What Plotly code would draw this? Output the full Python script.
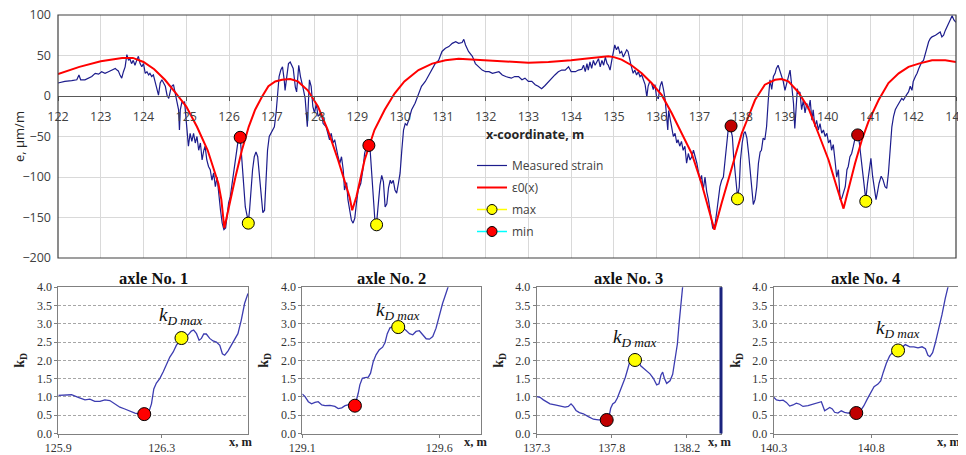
import plotly.graph_objects as go

# ---------------- main chart data ----------------
strain_x = [122.00,122.16,122.32,122.44,122.49,122.53,122.63,122.79,122.87,122.95,123.02,123.10,123.18,123.26,123.34,123.38,123.41,123.45,123.49,123.53,
123.57,123.61,123.65,123.68,123.72,123.76,123.80,123.84,123.88,123.92,123.96,124.00,124.04,124.08,124.12,124.15,124.19,124.23,124.27,124.31,
124.35,124.39,124.43,124.47,124.51,124.55,124.59,124.63,124.66,124.70,124.74,124.78,124.82,124.84,124.86,124.90,124.93,124.96,124.99,125.02,
125.05,125.09,125.13,125.17,125.21,125.25,125.29,125.33,125.37,125.41,125.44,125.48,125.52,125.56,125.60,125.64,125.68,125.72,125.76,125.80,
125.84,125.88,125.92,125.95,125.99,126.03,126.07,126.11,126.15,126.19,126.22,126.26,126.30,126.34,126.38,126.42,126.45,126.48,126.51,126.55,
126.59,126.63,126.67,126.71,126.75,126.79,126.83,126.87,126.90,126.94,126.98,127.02,127.06,127.10,127.13,127.17,127.21,127.25,127.29,127.31,
127.35,127.39,127.43,127.47,127.50,127.55,127.58,127.63,127.67,127.73,127.78,127.83,127.88,127.92,127.96,128.00,128.04,128.08,128.16,128.20,
128.27,128.35,128.39,128.43,128.47,128.55,128.59,128.63,128.67,128.70,128.75,128.78,128.82,128.86,128.90,128.94,128.98,129.02,129.08,129.13,
129.17,129.20,129.25,129.29,129.31,129.35,129.38,129.41,129.45,129.48,129.50,129.53,129.57,129.61,129.65,129.69,129.73,129.77,129.80,129.84,
129.88,129.92,129.96,130.00,130.04,130.08,130.12,130.16,130.20,130.24,130.27,130.35,130.43,130.47,130.50,130.59,130.67,130.75,130.82,130.90,
130.94,130.98,131.06,131.14,131.22,131.30,131.37,131.45,131.49,131.53,131.60,131.69,131.76,131.84,131.92,132.00,132.08,132.16,132.31,132.39,
132.47,132.60,132.68,132.77,132.85,132.92,133.00,133.08,133.16,133.23,133.31,133.39,133.47,133.55,133.62,133.70,133.78,133.86,133.94,134.00,
134.10,134.17,134.25,134.29,134.33,134.37,134.40,134.44,134.48,134.52,134.56,134.64,134.68,134.72,134.76,134.80,134.84,134.87,134.91,134.95,
134.99,135.02,135.06,135.10,135.14,135.18,135.22,135.26,135.30,135.33,135.37,135.40,135.45,135.49,135.53,135.57,135.61,135.65,135.69,135.73,
135.77,135.80,135.84,135.88,135.92,135.96,136.00,136.04,136.08,136.12,136.16,136.20,136.24,136.26,136.28,136.31,136.35,136.39,136.43,136.47,
136.50,136.54,136.58,136.62,136.66,136.70,136.74,136.78,136.82,136.86,136.90,136.94,136.98,137.02,137.05,137.09,137.13,137.17,137.21,137.25,
137.29,137.31,137.34,137.37,137.41,137.44,137.48,137.52,137.56,137.60,137.64,137.68,137.72,137.77,137.80,137.85,137.89,137.93,137.96,138.00,
138.04,138.07,138.11,138.15,138.19,138.23,138.26,138.30,138.34,138.38,138.42,138.45,138.49,138.53,138.57,138.61,138.65,138.69,138.73,138.77,
138.80,138.84,138.88,138.92,138.96,139.00,139.04,139.08,139.12,139.16,139.20,139.23,139.26,139.29,139.31,139.35,139.39,139.43,139.47,139.51,
139.55,139.59,139.63,139.66,139.70,139.74,139.78,139.82,139.86,139.90,139.94,139.98,140.02,140.06,140.09,140.13,140.17,140.21,140.25,140.29,
140.33,140.37,140.41,140.45,140.48,140.52,140.56,140.60,140.64,140.68,140.71,140.74,140.78,140.81,140.85,140.89,140.93,140.97,141.01,141.05,
141.09,141.13,141.16,141.20,141.25,141.29,141.34,141.38,141.42,141.46,141.50,141.54,141.58,141.62,141.66,141.70,141.73,141.77,141.81,141.85,
141.89,141.93,141.97,142.00,142.05,142.09,142.13,142.17,142.20,142.24,142.28,142.32,142.36,142.40,142.44,142.52,142.59,142.63,142.67,142.71,
142.75,142.79,142.83,142.87,142.91,142.95,142.98,143.00]
strain_y = [16,18,19,20,26,20,20,24,28,27,30,28,30,32,34,32,31,26,22,30,
36,51,44,46,40,44,38,44,49,40,36,40,28,30,26,28,24,26,18,7,
1,16,20,16,12,1,-3,7,12,14,3,-5,-17,-42,-17,-7,-9,-7,-25,-50,
-62,-46,-56,-46,-58,-50,-67,-58,-79,-67,-62,-79,-87,-91,-104,-95,-112,-100,-124,-141,
-157,-165,-163,-149,-132,-124,-108,-91,-75,-58,-52,-50,-75,-108,-137,-149,-155,-141,-116,-91,
-75,-69,-75,-100,-128,-144,-141,-104,-67,-50,-46,-42,-38,-21,-1,24,32,36,20,7,
24,40,42,38,34,11,5,38,24,10,-3,-38,20,12,-13,-21,-9,-25,-21,-34,
-38,-54,-46,-58,-54,-75,-83,-75,-91,-116,-107,-128,-139,-153,-157,-151,-132,-116,-108,-91,
-71,-65,-62,-60,-75,-108,-137,-153,-157,-140,-123,-110,-98,-106,-137,-133,-113,-104,-108,-104,
-116,-120,-108,-95,-67,-42,-34,-36,-30,-21,-17,-9,3,7,12,18,26,34,40,44,
50,55,59,61,65,67,65,66,70,63,55,49,40,36,32,30,30,28,30,26,
24,22,24,24,20,22,18,18,14,12,9,13,18,22,26,30,32,32,36,30,
30,32,33,38,30,40,32,42,34,44,38,46,36,44,38,48,40,38,32,44,
57,63,57,61,53,55,48,53,57,55,44,38,28,32,26,30,24,26,20,14,
-1,12,18,16,8,14,-2,-3,12,18,8,-5,-30,-42,-18,-25,-38,-50,-46,-58,
-54,-62,-56,-67,-62,-83,-71,-79,-75,-67,-75,-83,-95,-104,-98,-116,-100,-118,-128,-141,
-153,-163,-163,-157,-141,-126,-112,-104,-100,-79,-54,-38,-38,-50,-75,-108,-124,-113,-79,-58,
-46,-44,-52,-71,-95,-125,-134,-128,-112,-83,-69,-67,-52,-54,-38,-5,20,8,24,28,
34,38,32,24,18,7,16,26,32,12,-9,-40,-18,9,3,5,-17,-5,-21,-9,
-17,-5,-30,-17,-38,-30,-42,-34,-46,-42,-50,-46,-58,-54,-67,-60,-79,-100,-91,-128,
-126,-120,-112,-91,-87,-75,-71,-62,-52,-48,-48,-58,-79,-91,-116,-128,-108,-91,-77,-99,
-116,-128,-120,-108,-99,-103,-112,-114,-95,-62,-38,-25,-17,-13,-9,-5,-3,-5,-1,2,
5,12,7,18,24,28,34,38,42,44,53,61,67,71,73,75,77,79,73,75,
81,86,90,96,99,94,92,91]

eps0_x = [122.0,122.5,123.0,123.5,123.75,124.0,124.25,124.5,124.75,125.0,125.25,125.5,125.75,125.82,125.89,125.99,126.15,126.3,126.46,126.61,
126.77,126.92,127.08,127.24,127.43,127.61,127.84,128.08,128.31,128.55,128.75,128.82,128.88,128.98,129.17,129.29,129.4,129.64,129.87,130.1,
130.43,130.75,131.06,131.37,131.69,132.0,132.39,132.78,133.0,133.47,134.0,134.48,134.87,135.0,135.18,135.41,135.65,135.88,136.12,136.35,
136.58,136.82,137.05,137.21,137.35,137.52,137.76,137.99,138.15,138.3,138.53,138.77,138.92,139.08,139.31,139.55,139.78,140.02,140.21,140.37,
140.48,140.64,140.8,140.95,141.19,141.42,141.66,141.89,142.13,142.44,142.75,143.0]
eps0_y = [27,36,43,47,47,42,33,20,4,-13,-38,-67,-108,-128,-163,-137,-100,-67,-38,-17,
-1,12,18,20,21,18,7,-13,-42,-79,-112,-125,-141,-124,-79,-60,-42,-17,3,18,
32,40,44,46,45,44,42,41,41,42,44,47,49,48,45,38,28,16,1,-21,
-46,-71,-108,-137,-165,-132,-87,-46,-25,-5,14,20,21,18,5,-15,-46,-79,-112,-139,
-116,-83,-54,-32,-5,16,28,36,40,44,44,42]

max_x = [126.45, 129.45, 137.89, 140.89]
max_y = [-157, -159, -127, -130]
min_x = [126.26, 129.27, 137.74, 140.70]
min_y = [-51, -61, -37, -48]
min_colors = ["#FF0000", "#FF0000", "#C00000", "#C00000"]
main_xticks = list(range(122, 144))
main_yticks = [-200, -150, -100, -50, 0, 50, 100]

# ---------------- axle sub-charts data ----------------
axle_titles = ["axle No. 1", "axle No. 2", "axle No. 3", "axle No. 4"]
kd1_x = [125.9,125.926,125.951,125.977,126.003,126.022,126.041,126.061,126.08,126.099,126.119,126.138,126.157,126.176,126.196,126.215,126.232,126.247,126.26,126.269,
126.279,126.292,126.305,126.318,126.331,126.344,126.356,126.376,126.389,126.401,126.414,126.423,126.434,126.444,126.453,126.462,126.472,126.485,126.498,126.511,
126.524,126.534,126.543,126.556,126.569,126.581,126.594,126.607,126.62,126.633]
kd1_y = [1.04,1.04,1.06,0.99,0.92,0.94,0.88,0.88,0.92,0.90,0.81,0.72,0.67,0.61,0.56,0.53,0.53,0.53,0.81,1.22,
1.38,1.50,1.68,1.91,2.09,2.23,2.41,2.61,2.64,2.69,2.80,2.83,2.73,2.55,2.60,2.72,2.72,2.60,2.53,2.50,
2.41,2.18,2.14,2.26,2.41,2.55,2.73,3.10,3.56,3.83]
kd2_x = [129.1,129.11,129.122,129.134,129.146,129.158,129.171,129.183,129.201,129.219,129.231,129.244,129.256,129.268,129.28,129.292,129.298,129.304,129.31,129.319,
129.329,129.341,129.349,129.359,129.369,129.381,129.393,129.402,129.41,129.42,129.432,129.45,129.466,129.478,129.491,129.503,129.515,129.527,129.539,129.552,
129.564,129.576,129.588,129.6,129.612,129.624,129.634,129.645]
kd2_y = [1.08,1.01,0.87,0.81,0.85,0.87,0.78,0.76,0.77,0.74,0.68,0.70,0.76,0.78,0.81,0.76,0.92,1.10,1.33,1.51,
1.53,1.54,1.65,1.97,2.15,2.29,2.36,2.49,2.73,2.89,2.93,2.91,2.89,2.82,2.73,2.70,2.79,2.81,2.70,2.59,
2.58,2.65,2.88,3.24,3.56,3.83,4.01,4.30]
kd3_x = [137.3,137.32,137.34,137.36,137.38,137.41,137.44,137.47,137.49,137.506,137.52,137.536,137.556,137.58,137.61,137.64,137.67,137.7,137.72,137.734,
137.744,137.756,137.77,137.784,137.8,137.816,137.832,137.848,137.86,137.876,137.89,137.91,137.924,137.94,137.96,137.98,138.0,138.02,138.034,138.046,
138.056,138.066,138.08,138.1,138.116,138.13,138.144,138.156,138.168,138.176,138.184]
kd3_y = [1.01,0.99,0.92,0.86,0.81,0.78,0.76,0.72,0.74,0.81,0.74,0.63,0.57,0.54,0.46,0.39,0.37,0.37,0.37,0.46,
0.69,0.81,0.85,0.97,1.15,1.33,1.54,1.79,1.99,2.01,2.01,1.99,1.85,1.79,1.69,1.63,1.51,1.33,1.36,1.60,
1.68,1.51,1.37,1.44,1.62,1.99,2.44,3.08,3.74,4.06,4.40]
kd4_x = [140.3,140.314,140.331,140.348,140.365,140.382,140.399,140.416,140.433,140.45,140.476,140.501,140.527,140.544,140.561,140.575,140.587,140.6,140.612,140.629,
140.646,140.663,140.681,140.701,140.723,140.745,140.762,140.779,140.797,140.814,140.834,140.848,140.861,140.877,140.894,140.911,140.937,140.957,140.974,140.997,
141.018,141.039,141.06,141.077,141.09,141.1,141.114,141.128,141.145,141.162,141.179,141.193,141.206]
kd4_y = [0.99,0.92,0.90,0.91,0.85,0.75,0.78,0.83,0.80,0.74,0.76,0.80,0.83,0.87,0.62,0.67,0.71,0.67,0.58,0.56,
0.62,0.58,0.56,0.56,0.56,0.62,0.76,0.94,1.12,1.28,1.35,1.44,1.67,1.92,2.12,2.23,2.27,2.37,2.43,2.37,
2.37,2.34,2.37,2.32,2.14,2.10,2.21,2.48,2.84,3.25,3.70,4.00,4.30]
kd_x = [kd1_x, kd2_x, kd3_x, kd4_x]
kd_y = [kd1_y, kd2_y, kd3_y, kd4_y]
kd_max_x = [126.376, 129.45, 137.89, 140.937]
kd_max_y = [2.61, 2.91, 2.01, 2.27]
kd_min_x = [126.232, 129.292, 137.72, 140.723]
kd_min_y = [0.53, 0.76, 0.37, 0.56]
kd_ranges = [[125.9, 126.633], [129.1, 129.752], [137.3, 138.406], [140.3, 141.244]]
kd_xticks = [[125.9, 126.3], [129.1, 129.6], [137.3, 137.75, 138.2], [140.3, 140.8]]
kd_xticklabels = [["125.9", "126.3"], ["129.1", "129.6"], ["137.3", "137.8", "138.2"], ["140.3", "140.8"]]
kd_yticks = [0, 0.5, 1, 1.5, 2, 2.5, 3, 3.5, 4]

# ---------------- layout geometry ----------------
# The page places the figure 8 px in from the window corner, so the figure is
# 958 x 447 and window pixel positions are converted to paper fractions.
OFF = 8
W, H = 966 - OFF, 455 - OFF


def fx(px):
    return (px - OFF) / W


def fy(py):
    return (H - (py - OFF)) / H


main_xdom = [fx(58), fx(956)]
main_ydom = [fy(258), fy(15)]
sub_xdom = [[fx(58.3), fx(248)], [fx(302.3), fx(481)], [fx(536.7), fx(721)], [fx(773.7), fx(958)]]
sub_ydom = [fy(433.5), fy(287.2)]

SANS = "Open Sans"
SERIF = "Liberation Serif"
TXT = "#404040"

fig = go.Figure()

fig.add_trace(go.Scatter(x=strain_x, y=strain_y, mode="lines", name="Measured strain",
                         line=dict(color="#1c1c8c", width=1.2), legendgroup="a",
                         xaxis="x", yaxis="y"))
fig.add_trace(go.Scatter(x=eps0_x, y=eps0_y, mode="lines", name="ε0(x)",
                         line=dict(color="#FF0000", width=2), legendgroup="b",
                         xaxis="x", yaxis="y"))
# legend samples
fig.add_trace(go.Scatter(x=[None], y=[None], mode="lines+markers", name="max",
                         line=dict(color="#FFFF00", width=1.5),
                         marker=dict(color="#FFFF00", size=10, line=dict(color="#000000", width=1)),
                         legendgroup="c", xaxis="x", yaxis="y"))
fig.add_trace(go.Scatter(x=[None], y=[None], mode="lines+markers", name="min",
                         line=dict(color="#00FFFF", width=1.5),
                         marker=dict(color="#FF0000", size=10, line=dict(color="#000000", width=1)),
                         legendgroup="d", xaxis="x", yaxis="y"))
fig.add_trace(go.Scatter(x=max_x, y=max_y, mode="markers", showlegend=False, legendgroup="c",
                         marker=dict(color="#FFFF00", size=12, line=dict(color="#000000", width=1)),
                         xaxis="x", yaxis="y"))
fig.add_trace(go.Scatter(x=min_x, y=min_y, mode="markers", showlegend=False, legendgroup="d",
                         marker=dict(color=min_colors, size=12, line=dict(color="#000000", width=1)),
                         xaxis="x", yaxis="y"))

for i in range(4):
    xa = "x%d" % (i + 2)
    ya = "y%d" % (i + 2)
    fig.add_trace(go.Scatter(x=kd_x[i], y=kd_y[i], mode="lines", showlegend=False,
                             line=dict(color="#3c3cb0", width=1.3), xaxis=xa, yaxis=ya))
    fig.add_trace(go.Scatter(x=[kd_min_x[i]], y=[kd_min_y[i]], mode="markers", showlegend=False,
                             marker=dict(color=min_colors[i], size=13, line=dict(color="#000000", width=1)),
                             xaxis=xa, yaxis=ya))
    fig.add_trace(go.Scatter(x=[kd_max_x[i]], y=[kd_max_y[i]], mode="markers", showlegend=False,
                             marker=dict(color="#FFFF00", size=13, line=dict(color="#000000", width=1)),
                             xaxis=xa, yaxis=ya))

zero_pos = main_ydom[0] + (0 - main_yticks[0]) / (main_yticks[-1] - main_yticks[0]) * (main_ydom[1] - main_ydom[0])

layout = dict(
    width=W, height=H,
    margin=dict(l=0, r=0, t=0, b=0, pad=0, autoexpand=False),
    paper_bgcolor="white", plot_bgcolor="white",
    font=dict(family=SANS, color=TXT),
    showlegend=True,
    legend=dict(x=fx(472), y=fy(151), xanchor="left", yanchor="top",
                bgcolor="rgba(0,0,0,0)", font=dict(family=SANS, size=12, color=TXT),
                traceorder="grouped", tracegroupgap=3, itemwidth=30),
    xaxis=dict(domain=main_xdom, range=[122, 143], tickvals=main_xticks, anchor="free",
               position=zero_pos, showline=True, linecolor="#595959", linewidth=1, automargin=False,
               ticks="outside", ticklen=4, tickcolor="#595959", showgrid=True, gridcolor="#d9d9d9",
               ticklabelstandoff=5, ticklabeloverflow="allow",
               tickfont=dict(family=SANS, size=12.5, color=TXT), zeroline=False),
    yaxis=dict(domain=main_ydom, range=[-200, 100], tickvals=main_yticks, anchor="x", automargin=False,
               showgrid=True, gridcolor="#d9d9d9", zeroline=False, showline=False,
               ticks="", ticklabelstandoff=6, ticklabeloverflow="allow",
               tickfont=dict(family=SANS, size=12.5, color=TXT)),
)

for i in range(4):
    n = i + 2
    layout["xaxis%d" % n] = dict(domain=sub_xdom[i], range=kd_ranges[i], anchor="y%d" % n,
                                 tickvals=kd_xticks[i], ticktext=kd_xticklabels[i], automargin=False,
                                 showline=True, linecolor="#808080", linewidth=1, mirror=True,
                                 ticks="outside", ticklen=3, tickcolor="#808080", showgrid=False,
                                 zeroline=False, tickfont=dict(family=SERIF, size=12, color="#333333"))
    layout["yaxis%d" % n] = dict(domain=sub_ydom, range=[0, 4], anchor="x%d" % n, tickvals=kd_yticks,
                                 tickformat=".1f", showline=True, linecolor="#808080", linewidth=1,
                                 mirror=True, ticks="outside", ticklen=3, tickcolor="#808080", automargin=False,
                                 showgrid=True, gridcolor="#a6a6a6", griddash="3px,2px", zeroline=False,
                                 ticklabeloverflow="allow",
                                 tickfont=dict(family=SERIF, size=12, color="#333333"),
                                 title=dict(text="<b>k<sub>D</sub></b>", standoff=8,
                                            font=dict(family=SERIF, size=14, color="#222222")))

annotations = [
    dict(text="<b>x-coordinate, m</b>", xref="paper", yref="paper", x=fx(535), y=fy(135),
         xanchor="center", yanchor="middle", showarrow=False,
         font=dict(family=SANS, size=12.5, color="#262626")),
    dict(text="e, µm/m", xref="paper", yref="paper", x=fx(19), y=fy(137), textangle=-90,
         xanchor="center", yanchor="middle", showarrow=False,
         font=dict(family=SANS, size=13, color="#262626")),
]
xm_centers = [241, 476, 720, 949]
kd_shift = [8, 2, 8, 7]
for i in range(4):
    n = i + 2
    annotations.append(dict(text="<b>%s</b>" % axle_titles[i], xref="paper", yref="paper",
                            x=(sub_xdom[i][0] + sub_xdom[i][1]) / 2, y=fy(278),
                            xanchor="center", yanchor="middle", showarrow=False,
                            font=dict(family=SERIF, size=16.5, color="#111111")))
    annotations.append(dict(text="<b>x, m</b>", xref="paper", yref="paper",
                            x=fx(xm_centers[i]), y=fy(442), xanchor="center", yanchor="middle",
                            showarrow=False, font=dict(family=SERIF, size=12.5, color="#222222")))
    annotations.append(dict(text="<i>k</i><sub><i>D max</i></sub>", xref="x%d" % n, yref="y%d" % n,
                            x=kd_max_x[i], y=kd_max_y[i], xanchor="center", yanchor="bottom",
                            yshift=kd_shift[i], showarrow=False,
                            font=dict(family=SERIF, size=19, color="#111111")))
layout["annotations"] = annotations

layout["shapes"] = [
    dict(type="rect", xref="x domain", yref="y domain", x0=0, x1=1, y0=0, y1=1,
         line=dict(color="#404040", width=1.2), fillcolor="rgba(0,0,0,0)", layer="above"),
    dict(type="line", xref="x4 domain", yref="y4 domain", x0=1, x1=1, y0=0, y1=1,
         line=dict(color="#1a237e", width=3), layer="above"),
]

fig.update_layout(**layout)
fig.write_html("out.html")
